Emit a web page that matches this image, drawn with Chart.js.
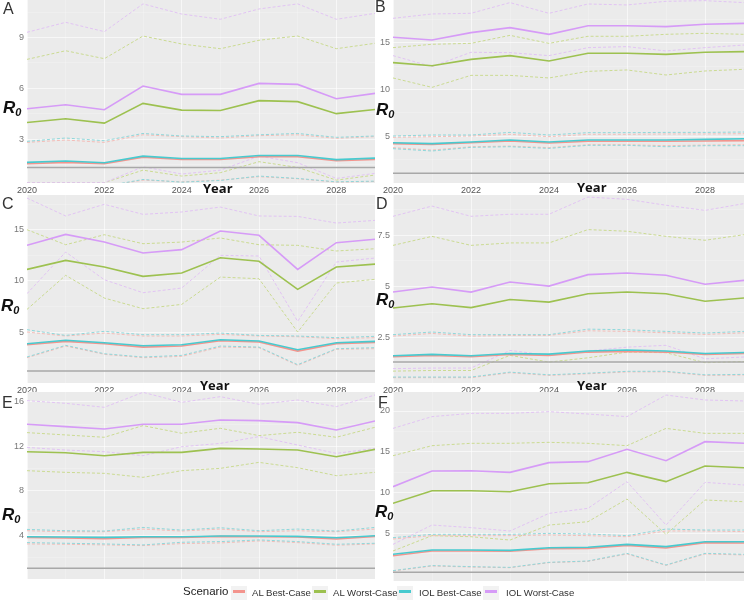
<!DOCTYPE html>
<html>
<head>
<meta charset="utf-8">
<script src="https://cdn.jsdelivr.net/npm/chart.js@4.4.1/dist/chart.umd.min.js"></script>
<style>
  body { margin: 0; background: #fff; }
  #wrap { position: relative; width: 744px; height: 600px; overflow: hidden; font-family: 'Liberation Sans', Arial, sans-serif; }
  canvas { position: absolute; }
  .lab { position: absolute; white-space: nowrap; line-height: 1; }
  .letter { font-size: 16px; color: #333; }
  .r0 { font-style: italic; font-weight: bold; font-size: 17px; color: #111; }
  .r0 sub { font-size: 11px; vertical-align: -3px; }
  .year { font-family: 'Open Sans', sans-serif; font-weight: bold; font-size: 13px; color: #111; }
  .key { position: absolute; width: 16px; height: 14px; background: #f2f2f2; }
  .key span { position: absolute; left: 2px; top: 4px; width: 12px; height: 3px; }
  .leg { font-size: 9.6px; color: #333; }
</style>
</head>
<body>
<div id="wrap"></div>
<script>
const years = [2020, 2021, 2022, 2023, 2024, 2025, 2026, 2027, 2028, 2029];
const scenarios = ['AL Best-Case', 'AL Worst-Case', 'IOL Best-Case', 'IOL Worst-Case'];

// Panel A
const aAlBest     = [1.54, 1.62, 1.54, 1.93, 1.79, 1.79, 1.95, 1.95, 1.72, 1.79];
const aAlBestLo   = [0.20, 0.20, 0.20, 0.57, 0.47, 0.57, 0.77, 0.65, 0.45, 0.49];
const aAlBestHi   = [2.80, 2.94, 2.80, 3.25, 3.14, 3.06, 3.20, 3.25, 3.04, 3.14];
const aAlWorst    = [3.98, 4.20, 3.94, 5.11, 4.71, 4.69, 5.27, 5.21, 4.50, 4.75];
const aAlWorstLo  = [0.42, 0.42, 0.42, 1.16, 0.81, 1.01, 1.66, 1.32, 0.57, 0.87];
const aAlWorstHi  = [7.71, 8.22, 7.75, 9.09, 8.62, 8.34, 8.84, 9.09, 8.34, 8.66];
const aIolBest    = [1.62, 1.70, 1.60, 1.99, 1.85, 1.85, 2.03, 2.03, 1.78, 1.87];
const aIolBestLo  = [0.20, 0.20, 0.20, 0.61, 0.45, 0.55, 0.81, 0.67, 0.47, 0.51];
const aIolBestHi  = [2.86, 3.06, 2.90, 3.33, 3.18, 3.14, 3.25, 3.33, 3.10, 3.18];
const aIolWorst   = [4.79, 5.03, 4.73, 6.13, 5.64, 5.64, 6.29, 6.23, 5.38, 5.70];
const aIolWorstLo = [0.42, 0.42, 0.42, 1.36, 0.93, 1.16, 1.99, 1.60, 0.67, 0.97];
const aIolWorstHi = [9.31, 9.90, 9.35, 10.99, 10.39, 10.08, 10.69, 10.99, 10.08, 10.43];

// Panel B
const bAlBest     = [4.18, 4.10, 4.28, 4.46, 4.25, 4.43, 4.43, 4.43, 4.46, 4.50];
const bAlBestLo   = [3.75, 3.49, 3.85, 3.92, 3.75, 4.07, 4.07, 3.96, 4.03, 4.07];
const bAlBestHi   = [4.86, 4.93, 5.00, 5.18, 4.93, 5.18, 5.18, 5.22, 5.22, 5.25];
const bAlWorst    = [12.89, 12.56, 13.24, 13.64, 13.06, 13.89, 13.89, 13.78, 14.00, 14.07];
const bAlWorstLo  = [11.24, 10.23, 11.52, 11.52, 11.24, 11.95, 12.10, 11.56, 11.99, 12.17];
const bAlWorstHi  = [14.50, 14.86, 14.96, 15.82, 14.96, 15.72, 15.72, 15.93, 16.04, 15.93];
const bIolBest    = [4.28, 4.18, 4.35, 4.57, 4.35, 4.57, 4.57, 4.57, 4.64, 4.71];
const bIolBestLo  = [3.64, 3.39, 3.78, 3.85, 3.67, 4.00, 4.00, 3.85, 3.96, 3.96];
const bIolBestHi  = [5.00, 5.11, 5.11, 5.39, 5.11, 5.36, 5.36, 5.39, 5.39, 5.43];
const bIolWorst   = [15.61, 15.32, 16.11, 16.65, 15.93, 16.86, 16.86, 16.76, 17.01, 17.11];
const bIolWorstLo = [13.64, 12.46, 14.00, 13.96, 13.64, 14.50, 14.61, 14.14, 14.50, 14.78];
const bIolWorstHi = [17.65, 18.12, 18.19, 19.34, 18.19, 19.19, 19.09, 19.48, 19.55, 19.34];

// Panel C
const cAlBest     = [3.76, 4.09, 3.86, 3.53, 3.63, 4.15, 4.02, 3.14, 3.86, 3.99];
const cAlBestLo   = [2.49, 3.63, 2.82, 2.49, 2.62, 3.53, 3.47, 1.74, 3.31, 3.37];
const cAlBestHi   = [5.00, 4.61, 4.90, 4.61, 4.61, 4.77, 4.61, 4.54, 4.35, 4.45];
const cAlWorst    = [11.12, 12.00, 11.35, 10.44, 10.77, 12.26, 11.91, 9.17, 11.35, 11.64];
const cAlWorstLo  = [7.21, 10.54, 8.32, 7.28, 7.70, 10.37, 10.21, 5.00, 9.79, 10.15];
const cAlWorstHi  = [15.00, 13.53, 14.51, 13.63, 13.79, 14.19, 13.53, 13.47, 12.92, 13.14];
const cIolBest    = [3.86, 4.19, 3.96, 3.66, 3.76, 4.25, 4.12, 3.27, 3.96, 4.09];
const cIolBestLo  = [2.56, 3.70, 2.88, 2.56, 2.72, 3.63, 3.53, 1.81, 3.37, 3.47];
const cIolBestHi  = [5.23, 4.67, 5.07, 4.74, 4.74, 4.90, 4.67, 4.61, 4.45, 4.58];
const cIolWorst   = [13.47, 14.54, 13.79, 12.72, 13.05, 14.87, 14.45, 11.12, 13.73, 14.06];
const cIolWorstLo = [8.75, 12.82, 10.11, 8.84, 9.30, 12.49, 12.43, 6.04, 11.84, 12.23];
const cIolWorstHi = [18.09, 16.34, 17.48, 16.50, 16.73, 17.21, 16.34, 16.30, 15.65, 15.91];

// Panel D
const dAlBest     = [1.57, 1.64, 1.57, 1.69, 1.64, 1.80, 1.83, 1.80, 1.69, 1.73];
const dAlBestLo   = [0.55, 0.55, 0.55, 0.79, 0.66, 0.74, 0.83, 0.83, 0.66, 0.68];
const dAlBestHi   = [2.58, 2.71, 2.58, 2.61, 2.61, 2.84, 2.81, 2.74, 2.66, 2.74];
const dAlWorst    = [3.95, 4.16, 3.97, 4.37, 4.24, 4.65, 4.73, 4.65, 4.28, 4.44];
const dAlWorstLo  = [0.87, 0.90, 0.90, 1.64, 1.31, 1.52, 1.80, 1.77, 1.28, 1.34];
const dAlWorstHi  = [7.01, 7.45, 7.01, 7.13, 7.13, 7.78, 7.70, 7.45, 7.26, 7.53];
const dIolBest    = [1.62, 1.69, 1.62, 1.73, 1.70, 1.85, 1.90, 1.85, 1.73, 1.78];
const dIolBestLo  = [0.58, 0.58, 0.58, 0.82, 0.69, 0.77, 0.86, 0.86, 0.69, 0.71];
const dIolBestHi  = [2.65, 2.78, 2.65, 2.65, 2.65, 2.92, 2.89, 2.81, 2.73, 2.81];
const dIolWorst   = [4.73, 4.98, 4.73, 5.22, 5.02, 5.58, 5.66, 5.55, 5.11, 5.30];
const dIolWorstLo = [0.99, 1.02, 1.02, 1.88, 1.64, 1.85, 2.04, 2.13, 1.47, 1.56];
const dIolWorstHi = [8.43, 8.93, 8.43, 8.53, 8.53, 9.37, 9.26, 8.97, 8.72, 9.05];

// Panel E
const eAlBest     = [3.80, 3.74, 3.68, 3.80, 3.80, 3.89, 3.86, 3.83, 3.65, 3.89];
const eAlBestLo   = [3.21, 3.18, 3.12, 3.06, 3.24, 3.30, 3.48, 3.33, 3.09, 3.21];
const eAlBestHi   = [4.40, 4.31, 4.31, 4.55, 4.37, 4.55, 4.31, 4.40, 4.31, 4.55];
const eAlWorst    = [11.52, 11.43, 11.16, 11.46, 11.46, 11.82, 11.76, 11.67, 11.07, 11.73];
const eAlWorstLo  = [9.81, 9.66, 9.57, 9.21, 9.81, 10.02, 10.56, 10.08, 9.36, 9.66];
const eAlWorstHi  = [13.24, 13.03, 12.82, 13.87, 13.18, 13.63, 12.97, 13.27, 12.82, 13.72];
const eIolBest    = [3.86, 3.83, 3.80, 3.86, 3.86, 3.92, 3.92, 3.89, 3.77, 3.95];
const eIolBestLo  = [3.33, 3.27, 3.21, 3.12, 3.36, 3.42, 3.57, 3.42, 3.18, 3.27];
const eIolBestHi  = [4.52, 4.40, 4.37, 4.70, 4.46, 4.67, 4.40, 4.55, 4.37, 4.70];
const eIolWorst   = [14.00, 13.78, 13.57, 14.00, 14.00, 14.38, 14.32, 14.14, 13.48, 14.29];
const eIolWorstLo = [11.91, 11.67, 11.52, 11.16, 11.97, 12.27, 12.88, 12.12, 11.37, 11.82];
const eIolWorstHi = [16.12, 15.88, 15.52, 16.87, 15.97, 16.48, 15.79, 16.18, 15.58, 16.63];

// Panel F
const fAlBest     = [2.26, 2.84, 2.84, 2.80, 3.12, 3.16, 3.53, 3.20, 3.86, 3.82];
const fAlBestLo   = [0.38, 1.00, 0.87, 0.79, 1.41, 1.57, 2.47, 1.08, 2.47, 2.35];
const fAlBestHi   = [4.31, 4.72, 4.72, 4.72, 4.80, 4.72, 4.59, 5.29, 5.29, 5.21];
const fAlWorst    = [8.68, 10.23, 10.23, 10.11, 11.09, 11.21, 12.48, 11.34, 13.26, 13.05];
const fAlWorstLo  = [2.84, 4.72, 4.59, 4.18, 6.02, 6.43, 9.21, 4.88, 9.09, 8.88];
const fAlWorstHi  = [14.52, 15.75, 16.04, 16.04, 16.16, 16.04, 15.75, 17.87, 17.26, 17.26];
const fIolBest    = [2.43, 2.96, 2.96, 2.92, 3.24, 3.29, 3.65, 3.37, 3.98, 3.98];
const fIolBestLo  = [0.43, 1.05, 0.92, 0.83, 1.45, 1.61, 2.55, 1.12, 2.55, 2.43];
const fIolBestHi  = [4.47, 4.88, 4.88, 4.88, 5.00, 4.92, 4.72, 5.53, 5.41, 5.41];
const fIolWorst   = [10.72, 12.64, 12.68, 12.48, 13.67, 13.79, 15.30, 13.91, 16.24, 16.04];
const fIolWorstLo = [3.65, 6.02, 5.70, 5.29, 7.45, 8.07, 11.34, 6.02, 11.25, 10.93];
const fIolWorstHi = [17.87, 19.31, 19.71, 19.71, 19.92, 19.63, 19.31, 21.96, 21.35, 21.23];

// reference line (R0 threshold) as it sits on each panel's axis
const refLine = [1.32, 1.0, 1.19, 1.31, 1.01, 0.22];

const meanColors = ['#f3948d', '#9dc150', '#47cacf', '#d69bf7'];
const bandColors = ['#f4bdb8', '#cbdb92', '#8fd8db', '#e2c4f4'];
const meanOrder = [1, 3, 0, 2]; // cyan drawn on top of red, like the original

Chart.defaults.font.family = "'Liberation Sans', Arial, sans-serif";

const panels = [
  { letter: 'A', box: [0, 0, 376, 197], axisW: 27, axisH: 14, padR: 1, yMin: 0.40, yMax: 11.22,
    yTicks: [3, 6, 9], yMinor: [1.5, 4.5, 7.5, 10.5], ref: refLine[0], showX: true,
    means: [aAlBest, aAlWorst, aIolBest, aIolWorst],
    lows: [aAlBestLo, aAlWorstLo, aIolBestLo, aIolWorstLo],
    highs: [aAlBestHi, aAlWorstHi, aIolBestHi, aIolWorstHi] },
  { letter: 'B', box: [372, 0, 372, 197], axisW: 21, axisH: 14, padR: 0, yMin: -0.05, yMax: 19.62,
    yTicks: [5, 10, 15], yMinor: [2.5, 7.5, 12.5, 17.5], ref: refLine[1], showX: true,
    means: [bAlBest, bAlWorst, bIolBest, bIolWorst],
    lows: [bAlBestLo, bAlWorstLo, bIolBestLo, bIolWorstLo],
    highs: [bAlBestHi, bAlWorstHi, bIolBestHi, bIolWorstHi] },
  { letter: 'C', box: [0, 195, 376, 202], axisW: 27, axisH: 14, padR: 1, yMin: 0.02, yMax: 18.39,
    yTicks: [5, 10, 15], yMinor: [2.5, 7.5, 12.5, 17.5], ref: refLine[2], showX: true,
    means: [cAlBest, cAlWorst, cIolBest, cIolWorst],
    lows: [cAlBestLo, cAlWorstLo, cIolBestLo, cIolWorstLo],
    highs: [cAlBestHi, cAlWorstHi, cIolBestHi, cIolWorstHi] },
  { letter: 'D', box: [372, 195, 372, 202], axisW: 21, axisH: 14, padR: 0, yMin: 0.29, yMax: 9.47,
    yTicks: [2.5, 5, 7.5], yMinor: [1.25, 3.75, 6.25, 8.75], ref: refLine[3], showX: true,
    means: [dAlBest, dAlWorst, dIolBest, dIolWorst],
    lows: [dAlBestLo, dAlWorstLo, dIolBestLo, dIolWorstLo],
    highs: [dAlBestHi, dAlWorstHi, dIolBestHi, dIolWorstHi] },
  { letter: 'E', box: [0, 392, 376, 187], axisW: 27, axisH: 0, padR: 1, yMin: 0.05, yMax: 16.9,
    yTicks: [4, 8, 12, 16], yMinor: [2, 6, 10, 14], ref: refLine[4], showX: false,
    means: [eAlBest, eAlWorst, eIolBest, eIolWorst],
    lows: [eAlBestLo, eAlWorstLo, eIolBestLo, eIolWorstLo],
    highs: [eAlBestHi, eAlWorstHi, eIolBestHi, eIolWorstHi] },
  { letter: 'F', box: [372, 392, 372, 189], axisW: 21, axisH: 0, padR: 0, yMin: -0.84, yMax: 22.33,
    yTicks: [5, 10, 15, 20], yMinor: [2.5, 7.5, 12.5, 17.5], ref: refLine[5], showX: false,
    means: [fAlBest, fAlWorst, fIolBest, fIolWorst],
    lows: [fAlBestLo, fAlWorstLo, fIolBestLo, fIolWorstLo],
    highs: [fAlBestHi, fAlWorstHi, fIolBestHi, fIolWorstHi] }
];

const panelBg = {
  id: 'panelBg',
  beforeDraw(chart) {
    const {ctx, chartArea: a} = chart;
    ctx.save();
    ctx.fillStyle = '#ebebeb';
    ctx.fillRect(a.left, a.top, a.right - a.left, a.bottom - a.top);
    ctx.restore();
  }
};

function toXY(arr) {
  return arr.map((v, i) => ({x: years[i], y: v}));
}

function zeroPad(s) {
  s.paddingTop = 0; s.paddingBottom = 0; s.paddingLeft = 0; s.paddingRight = 0;
}

const wrap = document.getElementById('wrap');

function renderPanel(p) {
  const cv = document.createElement('canvas');
  cv.width = p.box[2];
  cv.height = p.box[3];
  cv.style.left = p.box[0] + 'px';
  cv.style.top = p.box[1] + 'px';
  cv.style.width = p.box[2] + 'px';
  cv.style.height = p.box[3] + 'px';
  wrap.appendChild(cv);

  const datasets = [];
  for (let i = 0; i < 4; i++) {
    datasets.push({
      label: scenarios[i],
      data: toXY(p.means[i]),
      borderColor: meanColors[i],
      borderWidth: 1.6,
      order: meanOrder[i]
    });
  }
  datasets.push({
    label: 'R0 = 1',
    data: years.map(x => ({x: x, y: p.ref})),
    borderColor: '#a8a8a8',
    borderWidth: 1.5,
    order: 4
  });
  for (let i = 0; i < 4; i++) {
    datasets.push({
      label: scenarios[i] + ' lower',
      data: toXY(p.lows[i]),
      borderColor: bandColors[i],
      borderWidth: 1,
      borderDash: [3, 2],
      order: 5 + meanOrder[i]
    });
    datasets.push({
      label: scenarios[i] + ' upper',
      data: toXY(p.highs[i]),
      borderColor: bandColors[i],
      borderWidth: 1,
      borderDash: [3, 2],
      order: 5 + meanOrder[i]
    });
  }

  const allY = p.yTicks.concat(p.yMinor).sort((a, b) => a - b);

  new Chart(cv, {
    type: 'line',
    data: {datasets: datasets},
    options: {
      responsive: false,
      animation: false,
      devicePixelRatio: 1,
      layout: {padding: {left: 0, right: p.padR, top: 0, bottom: 0}},
      elements: {point: {radius: 0}, line: {tension: 0}},
      plugins: {legend: {display: false}, tooltip: {enabled: false}},
      scales: {
        x: {
          type: 'linear',
          min: 2020,
          max: 2029,
          afterBuildTicks: s => { s.ticks = years.map(v => ({value: v})); },
          afterFit: s => { s.height = p.axisH; zeroPad(s); },
          border: {display: false},
          grid: {
            drawTicks: false,
            color: c => (c.tick && c.tick.value % 2 === 0) ? 'rgba(255,255,255,0.75)' : 'rgba(255,255,255,0.4)',
            lineWidth: c => (c.tick && c.tick.value % 2 === 0) ? 0.8 : 0.5
          },
          ticks: {
            display: p.showX,
            autoSkip: false,
            maxRotation: 0,
            padding: 2,
            color: '#555',
            font: {size: 9},
            callback: v => v % 2 === 0 ? String(v) : ''
          }
        },
        y: {
          type: 'linear',
          min: p.yMin,
          max: p.yMax,
          afterBuildTicks: s => { s.ticks = allY.map(v => ({value: v})); },
          afterFit: s => { s.width = p.axisW; zeroPad(s); },
          border: {display: false},
          grid: {
            drawTicks: false,
            color: c => (c.tick && p.yTicks.includes(c.tick.value)) ? 'rgba(255,255,255,0.75)' : 'rgba(255,255,255,0.4)',
            lineWidth: c => (c.tick && p.yTicks.includes(c.tick.value)) ? 0.8 : 0.5
          },
          ticks: {
            autoSkip: false,
            padding: 3,
            color: '#777',
            font: {size: 9},
            callback: v => p.yTicks.includes(v) ? String(v) : ''
          }
        }
      }
    },
    plugins: [panelBg]
  });
}

panels.forEach(renderPanel);

// text overlays: panel letters, axis titles, legend
function addText(cls, html, left, top, extra) {
  const d = document.createElement('div');
  d.className = 'lab ' + cls;
  d.innerHTML = html;
  d.style.left = left + 'px';
  d.style.top = top + 'px';
  if (extra) d.style.cssText += extra;
  wrap.appendChild(d);
  return d;
}

const letterPos = [[3, 1], [375, -1], [2, 196], [376, 196], [2, 395], [378, 395]];
const r0Pos = [[3, 99], [376, 101], [1, 297], [376, 291], [2, 506], [375, 503]];
const yearPos = [[203, 182], [577, 181], [200, 379], [577, 379]];

panels.forEach((p, i) => {
  addText('letter', p.letter, letterPos[i][0], letterPos[i][1]);
  addText('r0', 'R<sub>0</sub>', r0Pos[i][0], r0Pos[i][1]);
});
yearPos.forEach(pos => addText('year', 'Year', pos[0], pos[1]));

addText('', 'Scenario', 183, 586, 'font-size:11.5px;color:#222;');
const keyX = [231, 312, 397, 483];
const keyTextX = [252, 333, 419, 506];
scenarios.forEach((s, i) => {
  const k = document.createElement('div');
  k.className = 'key';
  k.style.left = keyX[i] + 'px';
  k.style.top = '586px';
  const bar = document.createElement('span');
  bar.style.background = meanColors[i];
  k.appendChild(bar);
  wrap.appendChild(k);
  addText('leg', s, keyTextX[i], 588);
});
</script>
</body>
</html>
